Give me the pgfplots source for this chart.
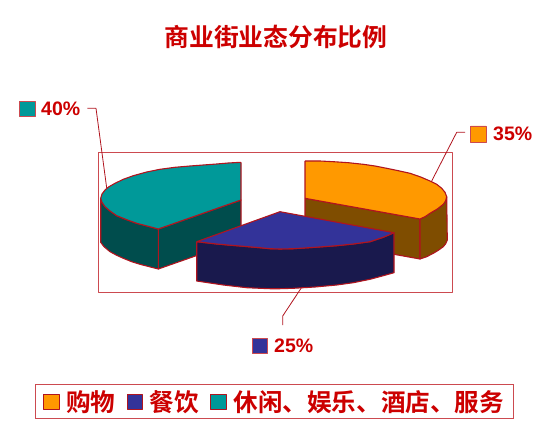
\documentclass[border=0pt]{standalone}
\usepackage{pgfplots}
\pgfplotsset{compat=1.18}
\usepackage{fontspec}
\setmainfont{Liberation Sans}
\newfontfamily\cjk[BoldFont={Noto Sans CJK SC Bold}]{Noto Sans CJK SC}
\definecolor{txtred}{HTML}{CC0000}
\definecolor{edgered}{HTML}{B0141E}
\definecolor{boxred}{HTML}{CC4A50}
\definecolor{orangetop}{HTML}{FF9900}
\definecolor{orangeside}{HTML}{7F4D00}
\definecolor{navytop}{HTML}{333399}
\definecolor{navyside}{HTML}{19194D}
\definecolor{tealtop}{HTML}{009999}
\definecolor{tealside}{HTML}{004D4D}
\begin{document}
\begin{tikzpicture}
\begin{axis}[
    scale only axis,
    width=550pt,
    height=428pt,
    xmin=0, xmax=550,
    ymin=0, ymax=428,
    y dir=reverse,
    axis lines=none,
    clip=false,
    legend columns=3,
    legend cell align=left,
    legend style={
        at={(axis cs:35.3,384.3)}, anchor=north west,
        draw=boxred, line width=1pt, inner xsep=7.3pt, inner ysep=0pt,
        minimum height=34pt,
        font=\cjk\bfseries\fontsize{24.6}{26}\selectfont,
        text=txtred,
        /tikz/every even column/.append style={column sep=9.2pt},
    },
    legend image code/.code={
        \draw[#1] (0pt,-7.6pt) rectangle (15.4pt,7.6pt);
        \path (20.4pt,0pt);
    },
    every axis plot/.append style={line join=round},
]
% keep the whole canvas in the bounding box
\path (axis cs:0,0) rectangle (axis cs:550,428);

% legend
\addlegendimage{draw=edgered,fill=orangetop,line width=0.8pt}
\addlegendentry{购物}
\addlegendimage{draw=edgered,fill=navytop,line width=0.8pt}
\addlegendentry{餐饮}
\addlegendimage{draw=edgered,fill=tealtop,line width=0.8pt}
\addlegendentry{休闲、娱乐、酒店、服务}

% plot frame
\addplot[forget plot,draw=boxred,line width=1pt] coordinates {
    (98.3,152.3)(452,152.3)(452,292.7)(98.3,292.7)(98.3,152.3)};

% leader lines
\addplot[forget plot,draw=edgered,line width=0.8pt] coordinates {
    (87.3,108.3)(96,108.3)(106.7,188)};
\addplot[forget plot,draw=edgered,line width=0.8pt] coordinates {
    (465,132.3)(456.7,132.3)(431.7,181)};
\addplot[forget plot,draw=edgered,line width=0.8pt] coordinates {
    (282.7,325)(282.7,316)(301.7,287.3)};

% orange slice, 35%
\addplot[forget plot,fill=orangeside,draw=edgered,line width=1.1pt] coordinates {
    (305,198.3)(420,219)(420,259)(305,238.3)(305,198.3)};
\addplot[forget plot,fill=orangeside,draw=edgered,line width=1.1pt] coordinates {
    (420,219)(425,216.7)(430,213.3)(437.3,209)(443.3,204.3)(445.7,200.7)(446.7,196.7)
    (447.3,240)(445.7,243.7)(443.3,246.7)(438.3,250.3)(433.3,253.3)(426.7,256.7)(420,259)(420,219)};
\addplot[forget plot,fill=orangetop,draw=edgered,line width=1.1pt] coordinates {
    (305,161)(320,161)(333.3,161.7)(348.3,162.7)(363.3,164.3)(375,166)(386.7,168.3)
    (398.3,170.7)(410,173.3)(420.7,177)(430,181)(436.7,184.3)(441.7,188.3)(445,192.3)
    (446.7,196.7)(445.7,200.7)(443.3,204.3)(437.3,209)(430,213.3)(425,216.7)(420,219)
    (305,198.3)(305,161)};

% teal slice, 40%
\addplot[forget plot,fill=tealside,draw=edgered,line width=1.1pt] coordinates {
    (158.3,229)(241,200)(241,240)(158.3,269)(158.3,229)};
\addplot[forget plot,fill=tealside,draw=edgered,line width=1.1pt] coordinates {
    (100.7,198.3)(102,202.3)(105,206.7)(110,211)(116.7,215.7)(126.7,219.7)(136.7,223.3)
    (148.3,226.3)(158.3,229)(158.3,269)(149.3,266.7)(140,264.3)(131.7,261.7)(123.3,258.3)
    (116.7,255.3)(110,251.7)(104,246.7)(100.7,242.3)(100.7,198.3)};
\addplot[forget plot,fill=tealtop,draw=edgered,line width=1.1pt] coordinates {
    (241,162.3)(228.3,163)(216.7,164)(203.3,165)(190,166)(175,167.3)(160,169.3)
    (146.7,172)(133.3,175.7)(123.3,179.3)(115,183.3)(109,186.7)(105,190)(102,194)
    (100.7,198.3)(102,202.3)(105,206.7)(110,211)(116.7,215.7)(126.7,219.7)(136.7,223.3)
    (148.3,226.3)(158.3,229)(241,200)(241,162.3)};

% navy slice, 25%
\addplot[forget plot,fill=navyside,draw=edgered,line width=1.1pt] coordinates {
    (196.7,241.7)(216.7,244)(228,245)(240,246)(260,247.7)(270,248.7)(280,249)(293.3,248.7)
    (315,247.3)(336.7,245.7)(353.3,244)(370,241.7)(383.3,237.3)(394,232.7)
    (394,272.7)(383.3,275.7)(370,279.3)(353.3,282.7)(336.7,285)(315,287)(293.3,288.3)
    (280,288.7)(270,288.7)(260,288.3)(246.7,287.7)(223.3,285)(196.7,281)(196.7,241.7)};
\addplot[forget plot,fill=navytop,draw=edgered,line width=1.1pt] coordinates {
    (196.7,241.7)(280,211.7)(394,232.7)(383.3,237.3)(370,241.7)(353.3,244)(336.7,245.7)
    (315,247.3)(293.3,248.7)(280,249)(270,248.7)(260,247.7)(240,246)(228,245)(216.7,244)
    (196.7,241.7)};

% label swatches
\addplot[forget plot,fill=tealtop,draw=boxred,line width=0.8pt] coordinates {
    (19.3,101.7)(35,101.7)(35,116.7)(19.3,116.7)(19.3,101.7)};
\addplot[forget plot,fill=orangetop,draw=boxred,line width=0.8pt] coordinates {
    (470.7,126)(486,126)(486,142)(470.7,142)(470.7,126)};
\addplot[forget plot,fill=navytop,draw=boxred,line width=0.8pt] coordinates {
    (252,338)(267.3,338)(267.3,353.3)(252,353.3)(252,338)};

\node[text=txtred,font=\bfseries\fontsize{19.5}{21}\selectfont,anchor=west,inner sep=0pt] at (axis cs:41,109) {40\%};
\node[text=txtred,font=\bfseries\fontsize{19.5}{21}\selectfont,anchor=west,inner sep=0pt] at (axis cs:493,134) {35\%};
\node[text=txtred,font=\bfseries\fontsize{19.5}{21}\selectfont,anchor=west,inner sep=0pt] at (axis cs:274,345.5) {25\%};
\node[text=txtred,font=\cjk\bfseries\fontsize{24.8}{26}\selectfont,inner sep=0pt] at (axis cs:276,37) {商业街业态分布比例};
\end{axis}
\end{tikzpicture}
\end{document}
